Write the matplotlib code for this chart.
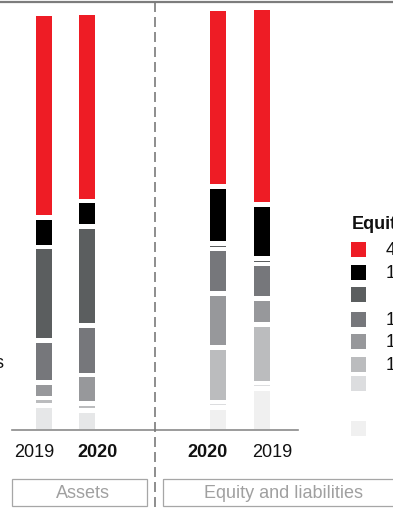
import matplotlib.pyplot as plt
from matplotlib.patches import Rectangle

plt.rcParams['font.family'] = ['Liberation Sans', 'DejaVu Sans']

# Balance sheet structure, % of total (stacked bottom -> top)
asset_colors = ['#e6e7e8', '#bbbcbe', '#97989b', '#76777b', '#5b5e5f', '#000000', '#ee1c25']
assets_2019 = [6.1, 1.8, 3.7, 9.8, 22.1, 7.0, 48.1]
assets_2020 = [4.9, 1.6, 6.8, 11.6, 23.4, 6.1, 44.3]

eq_colors = ['#f0f0f0', '#dcdddf', '#bbbcbe', '#97989b', '#76777b', '#5b5e5f', '#000000', '#ee1c25']
eq_2020 = [5.6, 1.3, 12.9, 12.7, 10.5, 1.3, 13.5, 41.9]
eq_2019 = [10.1, 1.3, 13.8, 6.1, 8.2, 1.3, 12.7, 46.4]

year_labels = ['2019', '2020', '2020', '2019']
group_labels = ['Assets', 'Equity and liabilities']

# legend rows for the equity side, top -> bottom
legend_colors = ['#ee1c25', '#000000', '#5b5e5f', '#76777b', '#97989b', '#bbbcbe', '#dcdddf', '#f0f0f0']
legend_values = [41.9, 13.5, None, 10.5, 12.7, 12.9, None, None]

W, H = 393, 510
fig = plt.figure(figsize=(W / 100, H / 100), dpi=100)

# bar axes: baseline at y=430 px, 4.237 px per percent
base_px = 430
px_per_pct = 4.237
ax = fig.add_axes([0, (H - base_px) / H, 1, base_px / H])
ax.set_xlim(0, W)
ax.set_ylim(0, base_px / px_per_pct)
ax.axis('off')

gap = 1.1
bar_x = [44, 87, 218, 262]
bars = [(assets_2019, asset_colors), (assets_2020, asset_colors),
        (eq_2020, eq_colors), (eq_2019, eq_colors)]
for x, (vals, cols) in zip(bar_x, bars):
    bottom = 0
    for v, c in zip(vals, cols):
        ax.bar(x, v - gap, bottom=bottom, width=16, color=c, linewidth=0)
        bottom += v

# overlay in pixel coordinates for rules, labels and legend
ov = fig.add_axes([0, 0, 1, 1])
ov.set_xlim(0, W)
ov.set_ylim(H, 0)
ov.axis('off')
ov.patch.set_alpha(0)

ov.plot([0, W], [3, 3], color='#7d7d7d', lw=1.6)
ov.plot([12, 298], [430.5, 430.5], color='#8a8a8a', lw=1.2)
ov.plot([154.5, 154.5], [3, H], color='#7a7a7a', lw=1.2, dashes=(6, 3))

year_x = [34, 98, 207.5, 272.5]
year_bold = [False, True, True, False]
for x, lab, b in zip(year_x, year_labels, year_bold):
    ov.text(x, 453, lab, ha='center', va='center', fontsize=13,
            fontweight='bold' if b else 'normal', color='#111111')

boxes = [(12, 146.7, 82.5), (163, 404, 283)]
for (x0, x1, tx), lab in zip(boxes, group_labels):
    ov.add_patch(Rectangle((x0, 479.7), x1 - x0, 27, fill=False,
                           edgecolor='#a6a6a6', lw=0.9))
    ov.text(tx, 493.5, lab, ha='center', va='center', fontsize=13, color='#a0a0a0')

ov.text(4.5, 364, 'Other assets', ha='right', va='center', fontsize=13, color='#111111')

# equity legend
ov.text(351.5, 225, 'Equity', ha='left', va='center', fontsize=13,
        fontweight='bold', color='#111111')
row_y = [250.2, 273.2, 295.2, 320.2, 342.2, 365.2, 384.2, 429.2]
for y, c, v in zip(row_y, legend_colors, legend_values):
    ov.add_patch(Rectangle((351, y - 7.5), 15, 15, color=c, lw=0))
    if v is not None:
        ov.text(386.5, y, f'{v:.1f} %', ha='left', va='center', fontsize=13, color='#111111')

fig.savefig('out.png', dpi=100)
